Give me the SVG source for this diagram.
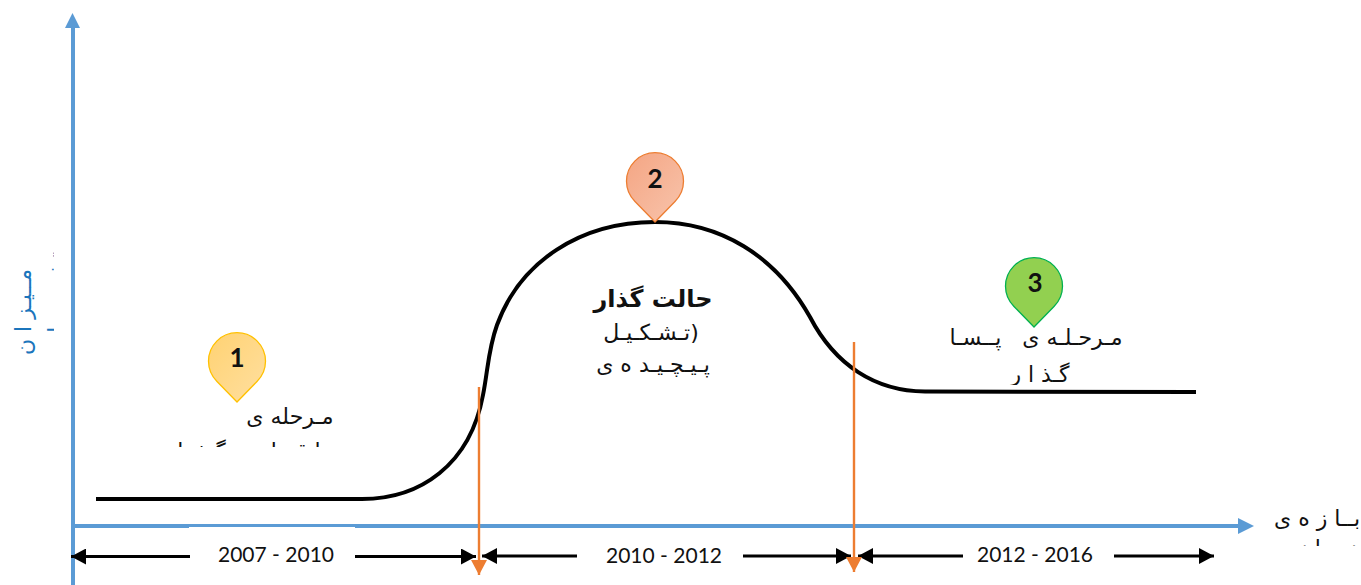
<svg xmlns="http://www.w3.org/2000/svg" width="1361" height="585" viewBox="0 0 1361 585">
<style>
.fa{font-family:"DejaVu Sans",sans-serif;font-size:22px;fill:#111;text-anchor:middle;direction:rtl}
.bl{fill:#1b75bc}
.num{font-family:Lato,"Open Sans",sans-serif;font-size:26px;font-weight:700;fill:#111;text-anchor:middle}
.yr{font-family:Lato,"Open Sans",sans-serif;font-size:21px;fill:#111;text-anchor:middle}
.dim{stroke:#000;stroke-width:3;fill:none;marker-end:url(#bk)}
.or{stroke:#ed7d31;stroke-width:2.4;fill:none;marker-end:url(#og)}
.ax{stroke:#5b9bd5;stroke-width:4;fill:none}
.pin{stroke-width:1.3}
</style>
<defs>
<marker id="bk" markerUnits="userSpaceOnUse" markerWidth="16" markerHeight="16" refX="15" refY="8" orient="auto"><path d="M0 0L15 8L0 16Z" fill="#000"/></marker>
<marker id="og" markerUnits="userSpaceOnUse" markerWidth="16" markerHeight="16" refX="15" refY="8" orient="auto"><path d="M0 0L15 8L0 16Z" fill="#ed7d31"/></marker>
<linearGradient id="g1" x1="0" y1="0" x2="1" y2="1"><stop offset="0" stop-color="#ffd272"/><stop offset="1" stop-color="#ffdfa0"/></linearGradient>
<linearGradient id="g2" x1="0" y1="0" x2="1" y2="1"><stop offset="0" stop-color="#f4a583"/><stop offset="1" stop-color="#f8c4ac"/></linearGradient>
<clipPath id="c1"><rect x="130" y="395" width="230" height="52"/></clipPath>
<clipPath id="c2"><rect x="570" y="320" width="170" height="64"/></clipPath>
<clipPath id="c3"><rect x="930" y="325" width="220" height="60"/></clipPath>
<clipPath id="c4"><rect x="1265" y="500" width="96" height="46"/></clipPath>
<clipPath id="c5"><rect x="5" y="240" width="49" height="130"/></clipPath>
<path id="p" d="M0 40L-20 19.5A28.5 28.5 0 1 1 20 19.5Z"/>
</defs>
<rect width="1361" height="585" fill="#fff"/>
<g id="connectors">
<path id="curve" d="M96 499H362C420 499 470 465 483 395C488 370 488 350 497 325C520 262 580 222 655 222C720 222 775 255 810 317C835 365 875 391 925 391.500L1196 392" fill="none" stroke="#000" stroke-width="4"/>
<path class="ax" d="M73 585V26"/><path d="M65 28L72.500 13L80 28Z" fill="#5b9bd5"/>
<path class="ax" d="M73 526H1240"/><path d="M1238 518L1254 526L1238 534Z" fill="#5b9bd5"/>
<rect x="189" y="527" width="166" height="6" fill="#fff"/>
<rect x="577" y="528" width="166" height="5" fill="#fff"/>
<path class="dim" d="M190 556.500H71"/><path class="dim" d="M355 556.500H476"/>
<path class="dim" d="M577 556H482"/><path class="dim" d="M743 556H851"/>
<path class="dim" d="M963 556H858"/><path class="dim" d="M1114 556H1214"/>
<path class="or" d="M479 387V575"/><path class="or" d="M854 342V572"/>
</g>
<g id="node-1"><use href="#p" x="237" y="362" fill="url(#g1)" stroke="#ffc000" class="pin"/><text class="num" x="237" y="367">1</text>
<g clip-path="url(#c1)"><text class="fa" x="290" y="424">مـرحله ی</text><text class="fa" x="246" y="459">مـا قـبـل&#160;&#160;&#160;&#160;&#160;گـذ&#160;&#160;ا&#160;&#160;ر</text></g></g>
<g id="node-2"><use href="#p" x="655" y="182" fill="url(#g2)" stroke="#ed7d31" class="pin"/><text class="num" x="655" y="188">2</text>
<text x="653" y="307" font-family="'DejaVu Sans',sans-serif" font-size="24" font-weight="700" fill="#111" text-anchor="middle">حالت گذار</text>
<g clip-path="url(#c2)"><text class="fa" x="651" y="340">(تـشـکـیـل</text><text class="fa" x="653" y="372">پـیـچـیـد ه ی</text></g></g>
<g id="node-3"><use href="#p" x="1034" y="287" fill="#92d050" stroke="#00b050" class="pin"/><text class="num" x="1035" y="292">3</text>
<g clip-path="url(#c3)"><text class="fa" x="1036" y="345">مـرحـلـه ی&#160;&#160;&#160;پــسـا</text><text class="fa" x="1040" y="382">گـذ ا ر</text></g></g>
<g id="x-label" clip-path="url(#c4)"><text class="fa" x="1317" y="526">بــا ز ه ی</text><text class="fa" x="1317" y="556">ز مـا نـی</text></g>
<g id="y-label" clip-path="url(#c5)"><text class="fa bl" transform="translate(31 312) rotate(-90)">مــیـز ا ن</text><text class="fa bl" transform="translate(64 306) rotate(-90)">تـغـیـیـر ا ت</text></g>
<g id="years"><text class="yr" x="276" y="562">2007 - 2010</text><text class="yr" x="664" y="563">2010 - 2012</text><text class="yr" x="1035" y="562">2012 - 2016</text></g>
</svg>
